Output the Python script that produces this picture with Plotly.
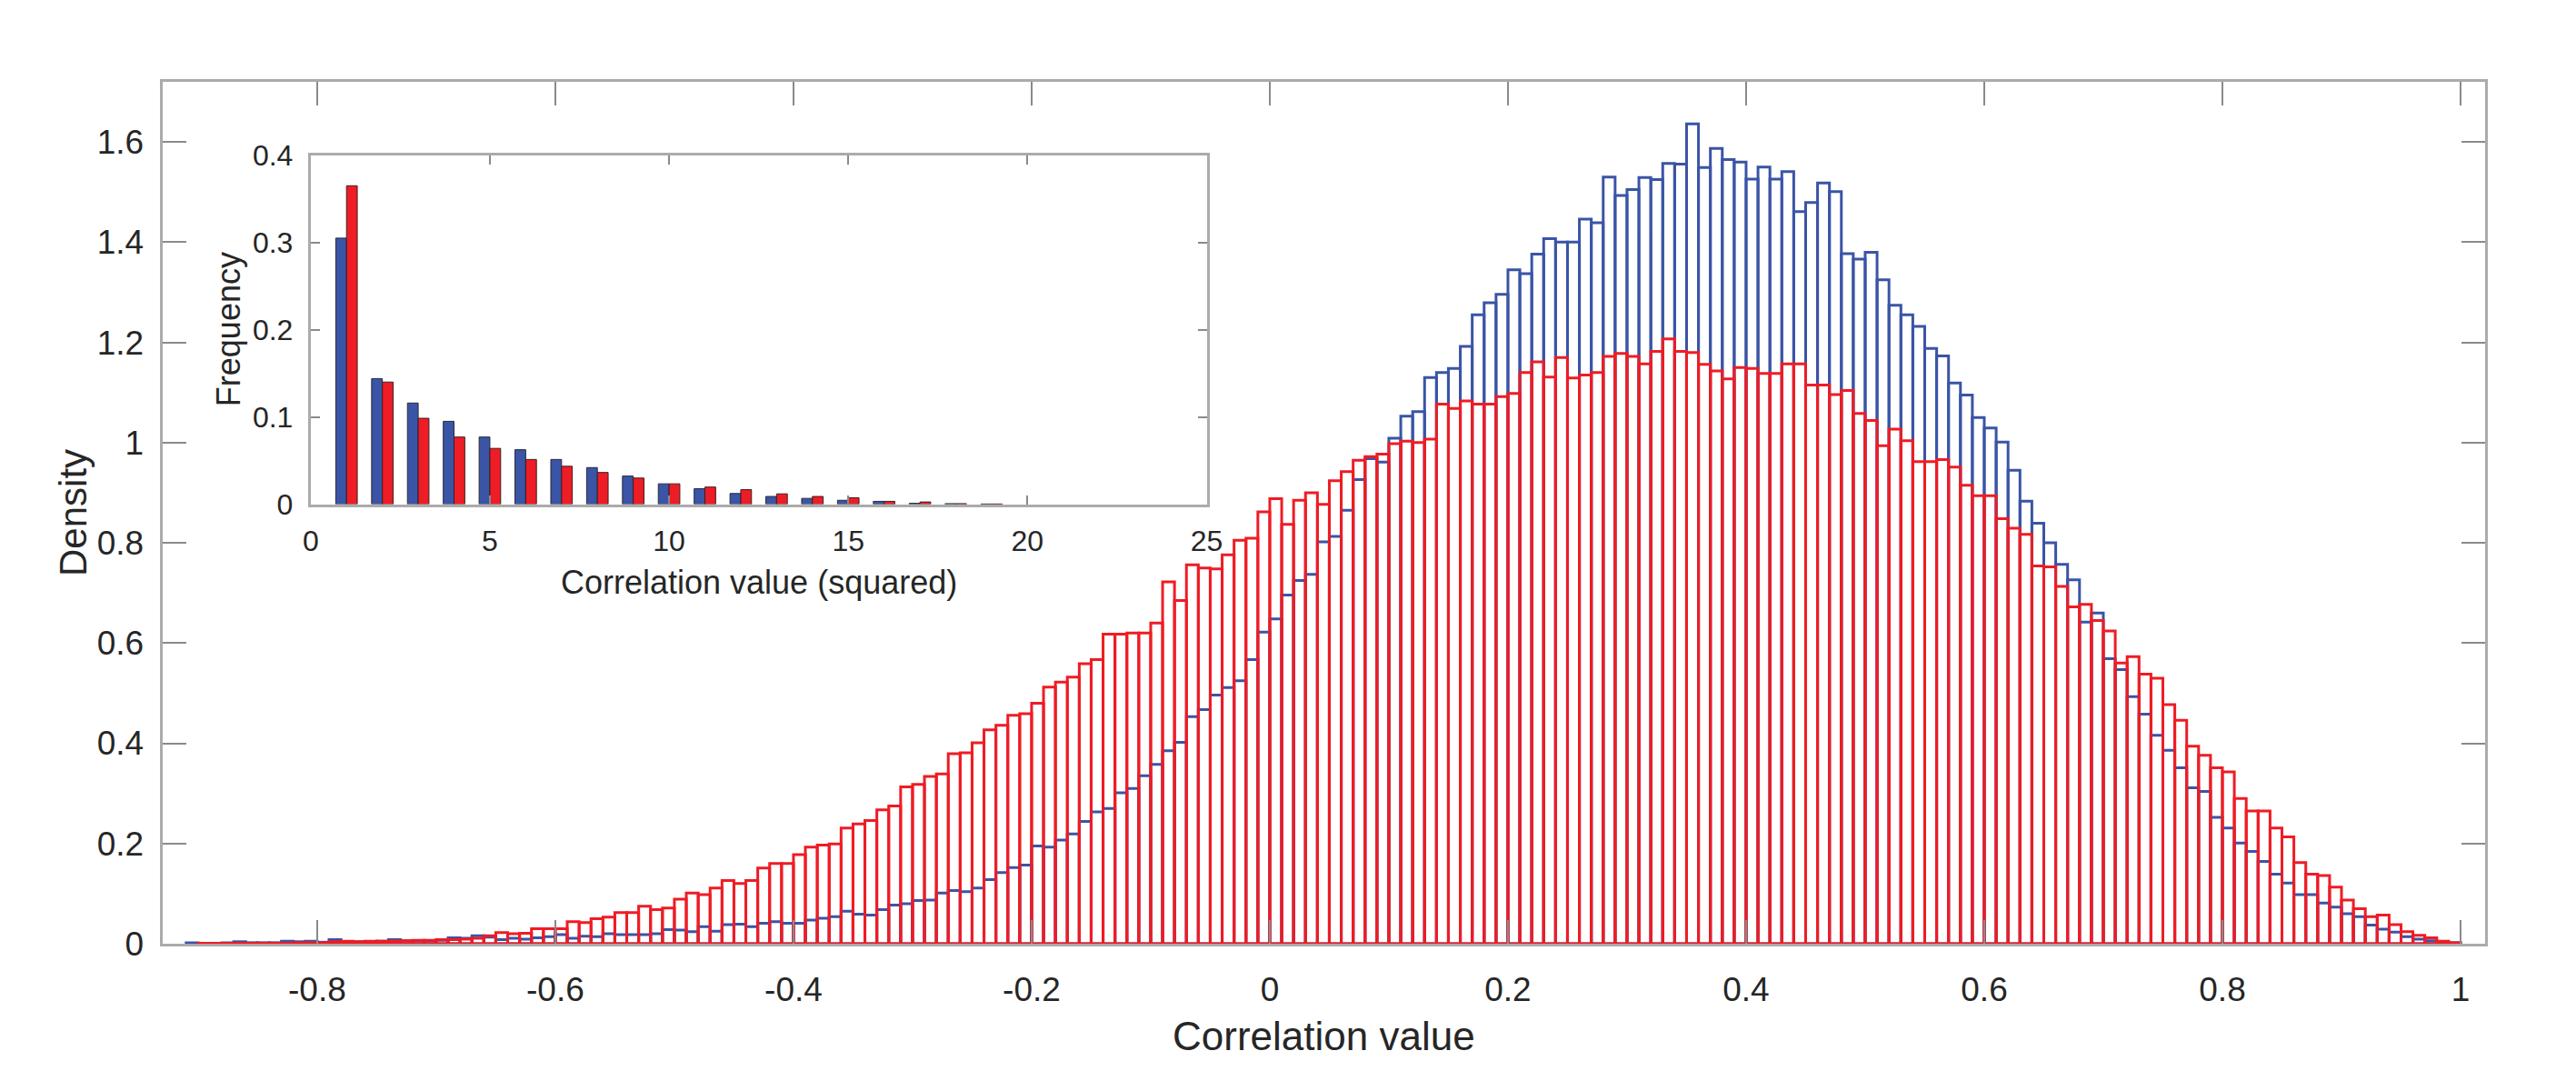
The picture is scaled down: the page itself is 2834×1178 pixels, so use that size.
import plotly.graph_objects as go

# ---------------- data ----------------
bin_width = 0.01
red_first_edge = -0.90
blue_first_edge = -0.91

red_density = [
    0.001, 0.001, 0.001, 0.001, 0.001, 0.001, 0.001, 0.001, 0.002, 0.002,   # -0.90 .. -0.81
    0.002, 0.004, 0.005, 0.004, 0.005, 0.005, 0.005, 0.006, 0.007, 0.007,   # -0.80 .. -0.71
    0.008, 0.008, 0.009, 0.011, 0.016, 0.022, 0.020, 0.021, 0.030, 0.030,   # -0.70 .. -0.61
    0.030, 0.044, 0.042, 0.050, 0.053, 0.062, 0.062, 0.075, 0.068, 0.071,   # -0.60 .. -0.51
    0.089, 0.101, 0.098, 0.111, 0.126, 0.120, 0.126, 0.151, 0.160, 0.160,   # -0.50 .. -0.41
    0.178, 0.193, 0.197, 0.199, 0.231, 0.239, 0.246, 0.267, 0.275, 0.313,   # -0.40 .. -0.31
    0.318, 0.334, 0.339, 0.379, 0.381, 0.401, 0.427, 0.436, 0.456, 0.459,   # -0.30 .. -0.21
    0.480, 0.512, 0.522, 0.532, 0.559, 0.567, 0.618, 0.618, 0.620, 0.620,   # -0.20 .. -0.11
    0.640, 0.722, 0.685, 0.756, 0.750, 0.748, 0.776, 0.805, 0.809, 0.862,   # -0.10 .. -0.01
    0.888, 0.837, 0.885, 0.900, 0.877, 0.924, 0.942, 0.965, 0.972, 0.977,   # 0.00 .. 0.09
    0.998, 1.003, 1.000, 1.007, 1.077, 1.068, 1.083, 1.077, 1.077, 1.092,   # 0.10 .. 0.19
    1.098, 1.140, 1.161, 1.131, 1.170, 1.129, 1.135, 1.140, 1.172, 1.178,   # 0.20 .. 0.29
    1.172, 1.157, 1.182, 1.207, 1.182, 1.180, 1.156, 1.143, 1.127, 1.150,   # 0.30 .. 0.39
    1.148, 1.138, 1.138, 1.157, 1.157, 1.115, 1.115, 1.096, 1.104, 1.058,   # 0.40 .. 0.49
    1.044, 0.994, 1.027, 1.004, 0.962, 0.962, 0.966, 0.951, 0.915, 0.894,   # 0.50 .. 0.59
    0.894, 0.848, 0.829, 0.817, 0.754, 0.752, 0.713, 0.672, 0.677, 0.645,   # 0.60 .. 0.69
    0.624, 0.560, 0.573, 0.538, 0.530, 0.477, 0.446, 0.394, 0.376, 0.351,   # 0.70 .. 0.79
    0.343, 0.290, 0.265, 0.265, 0.231, 0.213, 0.162, 0.139, 0.136, 0.113,   # 0.80 .. 0.89
    0.087, 0.070, 0.054, 0.057, 0.038, 0.024, 0.017, 0.012, 0.005, 0.002,   # 0.90 .. 0.99
]

blue_density = [
    0.002,                                                                  # -0.91
    0.001, 0.001, 0.002, 0.004, 0.002, 0.002, 0.002, 0.005, 0.004, 0.005,   # -0.90 .. -0.81
    0.003, 0.008, 0.004, 0.004, 0.004, 0.005, 0.008, 0.006, 0.006, 0.006,   # -0.80 .. -0.71
    0.007, 0.012, 0.011, 0.016, 0.013, 0.008, 0.011, 0.009, 0.012, 0.014,   # -0.70 .. -0.61
    0.018, 0.011, 0.015, 0.014, 0.020, 0.018, 0.018, 0.018, 0.020, 0.028,   # -0.60 .. -0.51
    0.027, 0.024, 0.034, 0.025, 0.038, 0.039, 0.034, 0.041, 0.044, 0.041,   # -0.50 .. -0.41
    0.041, 0.047, 0.051, 0.054, 0.065, 0.059, 0.057, 0.068, 0.077, 0.080,   # -0.40 .. -0.31
    0.086, 0.087, 0.101, 0.106, 0.104, 0.111, 0.128, 0.142, 0.152, 0.157,   # -0.30 .. -0.21
    0.195, 0.193, 0.207, 0.219, 0.244, 0.263, 0.270, 0.301, 0.310, 0.335,   # -0.20 .. -0.11
    0.358, 0.385, 0.402, 0.453, 0.467, 0.496, 0.511, 0.525, 0.567, 0.622,   # -0.10 .. -0.01
    0.648, 0.696, 0.725, 0.737, 0.802, 0.813, 0.865, 0.926, 0.968, 0.961,   # 0.00 .. 0.09
    1.009, 1.053, 1.062, 1.130, 1.140, 1.148, 1.192, 1.255, 1.279, 1.296,   # 0.10 .. 0.19
    1.345, 1.337, 1.376, 1.407, 1.400, 1.400, 1.446, 1.439, 1.530, 1.493,   # 0.20 .. 0.29
    1.505, 1.529, 1.525, 1.557, 1.556, 1.636, 1.549, 1.587, 1.565, 1.560,   # 0.30 .. 0.39
    1.526, 1.550, 1.526, 1.541, 1.461, 1.479, 1.518, 1.501, 1.377, 1.366,   # 0.40 .. 0.49
    1.380, 1.325, 1.274, 1.255, 1.232, 1.188, 1.173, 1.119, 1.095, 1.050,   # 0.50 .. 0.59
    1.029, 1.001, 0.945, 0.883, 0.839, 0.800, 0.757, 0.726, 0.642, 0.660,   # 0.60 .. 0.69
    0.569, 0.547, 0.493, 0.458, 0.416, 0.386, 0.351, 0.311, 0.304, 0.252,   # 0.70 .. 0.79
    0.231, 0.201, 0.184, 0.164, 0.139, 0.121, 0.098, 0.098, 0.081, 0.073,   # 0.80 .. 0.89
    0.060, 0.054, 0.037, 0.029, 0.023, 0.014, 0.009, 0.006, 0.003, 0.002,   # 0.90 .. 0.99
]

inset_categories = [1, 2, 3, 4, 5, 6, 7, 8, 9, 10, 11, 12, 13, 14, 15, 16, 17, 18, 19]
inset_blue = [0.305, 0.144, 0.116, 0.095, 0.077, 0.0625, 0.0513, 0.042, 0.0323, 0.0234,
              0.0178, 0.0123, 0.0089, 0.0067, 0.0045, 0.0033, 0.0011, 0.0007, 0.0003]
inset_red = [0.365, 0.140, 0.0985, 0.077, 0.064, 0.0513, 0.0435, 0.0364, 0.030, 0.0234,
             0.0197, 0.0167, 0.0119, 0.0089, 0.0074, 0.0033, 0.0026, 0.0007, 0.0003]

main_xtick_vals = [-0.8, -0.6, -0.4, -0.2, 0, 0.2, 0.4, 0.6, 0.8, 1]
main_xtick_text = ["-0.8", "-0.6", "-0.4", "-0.2", "0", "0.2", "0.4", "0.6", "0.8", "1"]
main_ytick_vals = [0, 0.2, 0.4, 0.6, 0.8, 1, 1.2, 1.4, 1.6]
main_ytick_text = ["0", "0.2", "0.4", "0.6", "0.8", "1", "1.2", "1.4", "1.6"]
inset_xtick_vals = [0, 5, 10, 15, 20, 25]
inset_xtick_text = ["0", "5", "10", "15", "20", "25"]
inset_ytick_vals = [0, 0.1, 0.2, 0.3, 0.4]
inset_ytick_text = ["0", "0.1", "0.2", "0.3", "0.4"]

# ---------------- style ----------------
W, H = 2834, 1178
BLUE = "#3A54A6"
RED = "#EE1C25"
AXIS_GRAY = "#ABABAB"
TICK_GRAY = "#8A8A8A"
TEXT = "#262626"
FONT = "Liberation Sans, Arial, Helvetica, sans-serif"

red_x = [round(red_first_edge + bin_width * (i + 0.5), 4) for i in range(len(red_density))]
blue_x = [round(blue_first_edge + bin_width * (i + 0.5), 4) for i in range(len(blue_density))]

fig = go.Figure()

fig.add_trace(go.Bar(
    x=blue_x, y=blue_density, width=bin_width,
    marker=dict(color="rgba(0,0,0,0)", line=dict(color=BLUE, width=3)),
    xaxis="x", yaxis="y", hoverinfo="skip",
))
fig.add_trace(go.Bar(
    x=red_x, y=red_density, width=bin_width,
    marker=dict(color="rgba(0,0,0,0)", line=dict(color=RED, width=3)),
    xaxis="x", yaxis="y", hoverinfo="skip",
))

fig.add_trace(go.Bar(
    x=inset_categories, y=inset_blue, width=0.3, offset=-0.3,
    marker=dict(color=BLUE, line=dict(color="#2a2a3a", width=1)),
    xaxis="x2", yaxis="y2", hoverinfo="skip",
))
fig.add_trace(go.Bar(
    x=inset_categories, y=inset_red, width=0.3, offset=0.0,
    marker=dict(color=RED, line=dict(color="#3a2020", width=1)),
    xaxis="x2", yaxis="y2", hoverinfo="skip",
))

# geometry (pixels)
mx0, mx1 = 178.6, 2734.0
my_top, my_bot = 90.0, 1038.0
ix0, ix1 = 341.8, 1327.5
iy_top, iy_bot = 170.7, 554.6

common_axis = dict(showgrid=False, zeroline=False, showline=True, linecolor=AXIS_GRAY,
                   linewidth=3, mirror="allticks", ticks="inside", tickcolor=TICK_GRAY,
                   tickwidth=2, automargin=False)

fig.update_layout(
    template="none",
    width=W, height=H,
    margin=dict(l=0, r=0, t=0, b=0, pad=0),
    paper_bgcolor="white", plot_bgcolor="rgba(0,0,0,0)",
    barmode="overlay", showlegend=False,
    font=dict(family=FONT, color=TEXT),
    xaxis=dict(domain=[mx0 / W, mx1 / W], range=[-0.930, 1.0206], anchor="y",
               tickvals=main_xtick_vals, ticktext=main_xtick_text, ticklen=26,
               tickfont=dict(size=37, color=TEXT), ticklabelstandoff=16, **common_axis),
    yaxis=dict(domain=[(H - my_bot) / H, (H - my_top) / H], range=[0, 1.720], anchor="x",
               tickvals=main_ytick_vals, ticktext=main_ytick_text, ticklen=26,
               tickfont=dict(size=37, color=TEXT), ticklabelstandoff=10, **common_axis),
    xaxis2=dict(domain=[ix0 / W, ix1 / W], range=[0, 25], anchor="y2",
                tickvals=inset_xtick_vals, ticktext=inset_xtick_text, ticklen=10,
                tickfont=dict(size=32, color=TEXT), ticklabelstandoff=10, **common_axis),
    yaxis2=dict(domain=[(H - iy_bot) / H, (H - iy_top) / H], range=[0, 0.4], anchor="x2",
                tickvals=inset_ytick_vals, ticktext=inset_ytick_text, ticklen=10,
                tickfont=dict(size=32, color=TEXT), ticklabelstandoff=10, **common_axis),
    annotations=[
        dict(text="Correlation value", x=(mx0 + mx1) / 2 / W, y=1 - 1139 / H,
             xref="paper", yref="paper", showarrow=False, xanchor="center", yanchor="middle",
             font=dict(size=44, color=TEXT)),
        dict(text="Density", x=80 / W, y=1 - (my_top + my_bot) / 2 / H,
             xref="paper", yref="paper", showarrow=False, xanchor="center", yanchor="middle",
             textangle=-90, font=dict(size=42, color=TEXT)),
        dict(text="Correlation value (squared)", x=(ix0 + ix1) / 2 / W, y=1 - 640 / H,
             xref="paper", yref="paper", showarrow=False, xanchor="center", yanchor="middle",
             font=dict(size=36, color=TEXT)),
        dict(text="Frequency", x=251.5 / W, y=1 - (iy_top + iy_bot) / 2 / H,
             xref="paper", yref="paper", showarrow=False, xanchor="center", yanchor="middle",
             textangle=-90, font=dict(size=36, color=TEXT)),
    ],
)

fig.write_html("out.html")
